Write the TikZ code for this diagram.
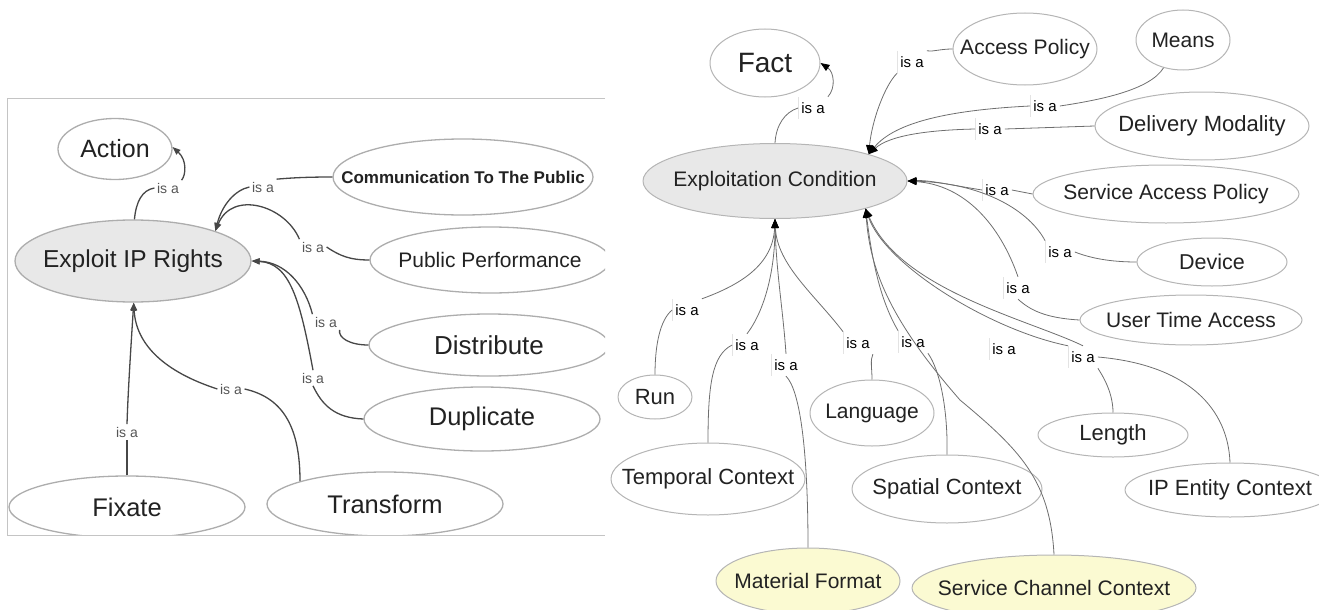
\documentclass[tikz,border=0pt]{standalone}
\usepackage{fontspec}
\setmainfont{Liberation Sans}
\usetikzlibrary{shapes.geometric,arrows.meta}
\definecolor{lbord}{HTML}{ADADAD}
\definecolor{rbord}{HTML}{B5B5B5}
\definecolor{ledge}{HTML}{474747}
\definecolor{redge}{HTML}{6E6E6E}
\definecolor{graynode}{HTML}{E8E8E8}
\definecolor{yellownode}{HTML}{FBFAD2}
\definecolor{framec}{HTML}{C4C4C4}
\definecolor{ltext}{HTML}{555555}
\definecolor{ntext}{HTML}{222222}
\definecolor{lbar}{HTML}{D4D4D4}
\newcommand\pxf[1]{\fontsize{#1}{#1}\selectfont}
\tikzset{
  ellL/.style n args={2}{ellipse, draw=lbord, line width=1.3pt, fill=white,
    minimum width=#1, minimum height=#2, inner sep=0pt, text=ntext},
  ellR/.style n args={2}{ellipse, draw=rbord, line width=1pt, fill=white,
    minimum width=#1, minimum height=#2, inner sep=0pt, text=ntext},
  labL/.style={inner sep=2.5pt, text=ltext, font=\pxf{14}},
  labR/.style={inner xsep=3pt, minimum height=22pt, fill=white, text=black, font=\pxf{15},
    path picture={\draw[lbar, line width=1.2pt] (path picture bounding box.north west) -- (path picture bounding box.south west);}},
  eL/.style={draw=ledge, line width=1.3pt},
  eLa/.style={eL, -{Triangle[length=8pt,width=6pt]}},
  eR/.style={draw=redge, line width=0.8pt},
  eRa/.style={eR, -{Triangle[length=9pt,width=7pt,color=black]}},
  frameline/.style={draw=framec, line width=1pt}
}
\begin{document}
\begin{tikzpicture}[x=1pt,y=-1pt]
\useasboundingbox (0,0) rectangle (1319,610);
% ---------------- left panel ----------------
\begin{scope}
\clip (7,98) rectangle (605,535.5);
\node[ellL={114}{61}] (action) at (115,149) {\makebox[0pt]{\pxf{25}Action}};
\node[ellL={236}{82}, fill=graynode] (exploit) at (133,261) {\makebox[0pt]{\pxf{24.5}Exploit IP Rights}};
\node[ellL={260}{76}] (comm) at (463,177) {\makebox[0pt]{\pxf{17}\bfseries Communication To The Public}};
\node[ellL={240}{66}] (pubperf) at (490,260) {\makebox[0pt]{\pxf{21}Public Performance}};
\node[ellL={240}{62}] (distribute) at (489,345) {\makebox[0pt]{\pxf{26}Distribute}};
\node[ellL={236}{64}] (duplicate) at (482,419) {\makebox[0pt]{\pxf{25.5}Duplicate}};
\node[ellL={236}{62}] (fixate) at (127,507) {\makebox[0pt]{\pxf{25.5}Fixate}};
\node[ellL={236}{64}] (transform) at (385,504) {\makebox[0pt]{\pxf{25.5}Transform}};

\node[labL] (la1) at (168,188) {is a};
\node[labL] (la2) at (263,187) {is a};
\node[labL] (la3) at (313,247) {is a};
\node[labL] (la4) at (326,322) {is a};
\node[labL] (la5) at (313,378) {is a};
\node[labL] (la6) at (231,389) {is a};
\node[labL] (la7) at (127,432) {is a};

\draw[eL] (exploit.88) .. controls (136,202) and (142,190) .. (la1.west);
\draw[eLa] (la1.north east) .. controls (186,175) and (187,160) .. (action.2);
\draw[eL] (comm.west) .. controls (305,177) and (290,178) .. (la2.north east);
\draw[eLa] (la2.west) .. controls (235,190) and (222,205) .. (exploit.20);
\draw[eL] (pubperf.west) .. controls (350,260) and (340,256) .. (la3.east);
\draw[eLa] (la3.north west) .. controls (285,205) and (232,190) .. (exploit.20);
\draw[eL] (distribute.west) .. controls (350,345) and (338,338) .. (la4.south east);
\draw[eLa] (la4.north west) .. controls (305,285) and (285,262) .. (exploit.0);
\draw[eL] (duplicate.west) .. controls (335,418) and (322,405) .. (la5.south);
\draw[eLa] (la5.north) .. controls (300,300) and (290,263) .. (exploit.0);
\draw[eL] (transform.165) .. controls (300,430) and (285,398) .. (la6.east);
\draw[eLa] (la6.west) .. controls (165,372) and (136,345) .. (exploit.-89);
\draw[eL] (fixate.north) -- (la7.south);
\draw[eLa] (la7.north) .. controls (128,390) and (132,330) .. (exploit.-89);
\end{scope}
\draw[frameline] (605,98) -- (7.5,98) -- (7.5,535) -- (605,535);

% ---------------- right panel ----------------
\node[ellR={110}{68}] (fact) at (765,63) {\makebox[0pt]{\pxf{28}Fact}};
\node[ellR={264}{75}, fill=graynode] (ec) at (775,181) {\makebox[0pt]{\pxf{21}Exploitation Condition}};
\node[ellR={144}{72}] (access) at (1025,49) {\makebox[0pt]{\pxf{21}Access Policy}};
\node[ellR={94}{60}] (means) at (1183,40) {\makebox[0pt]{\pxf{21}Means}};
\node[ellR={214}{68}] (deliv) at (1202,126) {\makebox[0pt]{\pxf{22}Delivery Modality}};
\node[ellR={266}{58}] (sap) at (1166,194) {\makebox[0pt]{\pxf{21}Service Access Policy}};
\node[ellR={150}{48}] (device) at (1212,262) {\makebox[0pt]{\pxf{21.5}Device}};
\node[ellR={222}{50}] (uta) at (1191,320) {\makebox[0pt]{\pxf{21}User Time Access}};
\node[ellR={74}{44}] (run) at (655,397) {\makebox[0pt]{\pxf{22}Run}};
\node[ellR={194}{72}] (temporal) at (708,479) {\makebox[0pt]{\pxf{22}Temporal Context}};
\node[ellR={124}{66}] (language) at (872,413) {\makebox[0pt]{\pxf{21}Language}};
\node[ellR={190}{68}] (spatial) at (947,489) {\makebox[0pt]{\pxf{22}Spatial Context}};
\node[ellR={150}{44}] (length) at (1113,435) {\makebox[0pt]{\pxf{22}Length}};
\node[ellR={210}{54}] (ipe) at (1230,490) {\makebox[0pt]{\pxf{22}IP Entity Context}};
\node[ellR={184}{66}, fill=yellownode] (mf) at (808,581) {\makebox[0pt]{\pxf{21}Material Format}};
\node[ellR={284}{66}, fill=yellownode] (scc) at (1054,588) {\makebox[0pt]{\pxf{21}Service Channel Context}};

\node[labR] (lf) at (813,108) {is a};
\node[labR] (lap) at (912,62) {is a};
\node[labR] (lm) at (1045,106) {is a};
\node[labR] (ld) at (990,129) {is a};
\node[labR] (ls) at (997,190) {is a};
\node[labR] (ldev) at (1060,252) {is a};
\node[labR] (lu) at (1018,288) {is a};
\node[labR] (lr) at (687,310) {is a};
\node[labR] (lt) at (747,345) {is a};
\node[labR] (lmf) at (786,365) {is a};
\node[labR] (ll) at (858,343) {is a};
\node[labR] (lsp) at (913,342) {is a};
\node[labR] (lx) at (1004,349) {is a};
\node[labR] (lle) at (1083,357) {is a};

\draw[eR] (ec.90) .. controls (776,125) and (785,112) .. (lf.west);
\draw[eRa] (lf.north east) .. controls (836,88) and (834,72) .. (fact.0);
\draw[eR] (access.west) .. controls (940,49) and (932,52) .. (lap.north east);
\draw[eRa] (lap.south west) .. controls (885,85) and (872,120) .. (ec.16);
\draw[eR] (means.235) .. controls (1150,90) and (1100,100) .. (lm.east);
\draw[eRa] (lm.west) .. controls (950,110) and (895,122) .. (ec.16);
\draw[eR] (deliv.west) -- (ld.east);
\draw[eRa] (ld.west) .. controls (930,130) and (890,135) .. (ec.16);
\draw[eR] (sap.west) -- (ls.east);
\draw[eRa] (ls.west) .. controls (950,185) and (930,180) .. (ec.0);
\draw[eR] (device.west) .. controls (1110,262) and (1090,258) .. (ldev.east);
\draw[eRa] (ldev.north west) .. controls (1030,212) and (985,183) .. (ec.0);
\draw[eR] (uta.west) .. controls (1045,318) and (1030,310) .. (lu.south);
\draw[eRa] (lu.north) .. controls (1000,225) and (965,185) .. (ec.0);

\draw[eR] (run.north) .. controls (655,345) and (660,320) .. (lr.west);
\draw[eRa] (lr.north east) .. controls (740,285) and (773,265) .. (ec.-90);
\draw[eR] (temporal.north) .. controls (708,385) and (712,355) .. (lt.west);
\draw[eRa] (lt.north) .. controls (765,310) and (775,270) .. (ec.-90);
\draw[eR] (mf.north) .. controls (808,450) and (800,390) .. (lmf.south);
\draw[eRa] (lmf.north) .. controls (783,310) and (776,270) .. (ec.-90);
\draw[eR] (language.north) .. controls (872,368) and (870,360) .. (ll.south east);
\draw[eRa] (ll.north west) .. controls (815,295) and (777,265) .. (ec.-90);
\draw[eR] (spatial.north) .. controls (948,410) and (940,370) .. (lsp.south east);
\draw[eRa] (lsp.north west) .. controls (880,300) and (872,260) .. (ec.-17);
\draw[eRa] (scc.north) .. controls (1050,480) and (1020,450) .. (960,400) .. controls (890,320) and (870,270) .. (ec.-17);
\draw[eR] (length.north) .. controls (1113,390) and (1100,372) .. (lle.south east);
\draw[eRa] (lle.north west) .. controls (990,330) and (885,265) .. (ec.-17);
\draw[eR] (ipe.north) .. controls (1228,410) and (1190,365) .. (lle.east);
\draw[eRa] (lle.north) .. controls (1030,320) and (900,290) .. (ec.-17);
\end{tikzpicture}
\end{document}
